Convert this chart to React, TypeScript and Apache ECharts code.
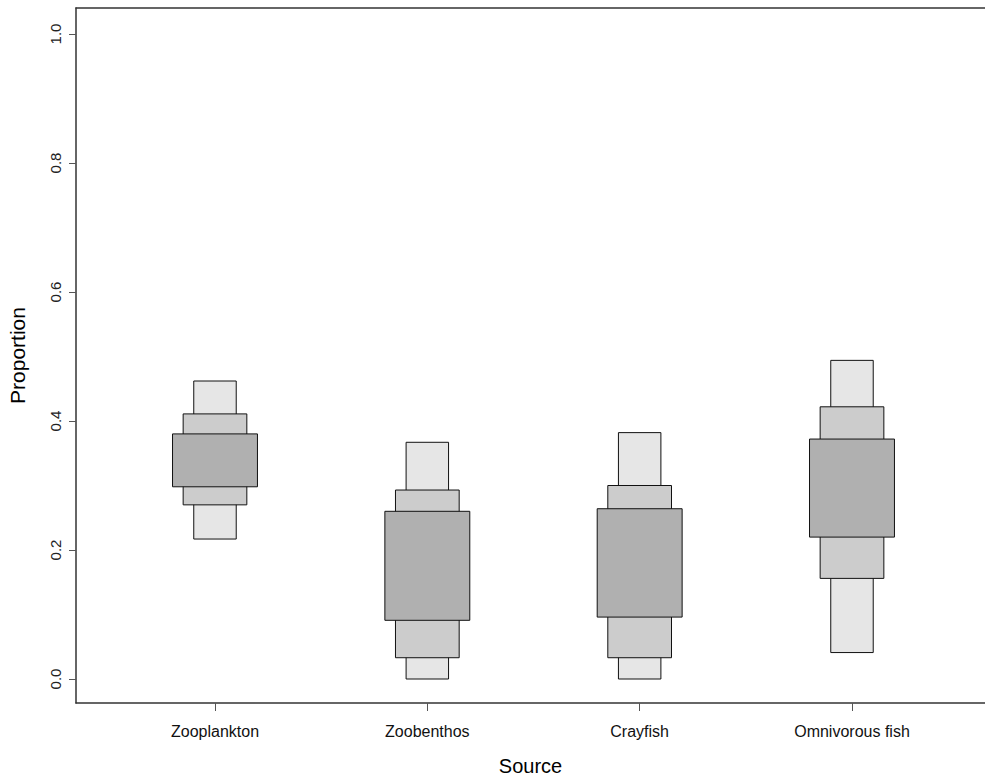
import React, { useEffect, useRef } from "react";
import * as echarts from "echarts";

const categories = ["Zooplankton", "Zoobenthos", "Crayfish", "Omnivorous fish"];
const ci95Low = [0.217, 0.0, 0.0, 0.041];
const ci95High = [0.462, 0.367, 0.382, 0.494];
const ci75Low = [0.27, 0.033, 0.033, 0.156];
const ci75High = [0.411, 0.293, 0.3, 0.422];
const ci50Low = [0.298, 0.091, 0.096, 0.22];
const ci50High = [0.38, 0.26, 0.264, 0.372];
const yTicks = [0, 0.2, 0.4, 0.6, 0.8, 1.0];

const FONT = "'Liberation Sans', Arial, Helvetica, sans-serif";

export default function App() {
  const ref = useRef<HTMLDivElement>(null);
  useEffect(() => {
    if (!ref.current) return;
    const chart = echarts.init(ref.current, undefined, { renderer: "svg" });
    const data = categories.map((c, i) => [
      i + 1,
      ci95Low[i],
      ci95High[i],
      ci75Low[i],
      ci75High[i],
      ci50Low[i],
      ci50High[i],
    ]);
    const levels = [
      { lo: 1, hi: 2, hw: 0.1, fill: "#e6e6e6" },
      { lo: 3, hi: 4, hw: 0.15, fill: "#cccccc" },
      { lo: 5, hi: 6, hw: 0.2, fill: "#b0b0b0" },
    ];
    const xTicks = categories.map((_, i) => i + 1);
    chart.setOption({
      animation: false,
      backgroundColor: "#ffffff",
      grid: {
        left: 76,
        top: 8,
        bottom: 75,
        right: 0,
        containLabel: false,
        outerBoundsMode: "none",
      },
      xAxis: [
        {
          type: "value",
          min: 0.3454,
          max: 4.6264,
          name: "Source",
          nameLocation: "middle",
          nameGap: 53,
          nameTextStyle: { fontFamily: FONT, fontSize: 20, color: "#000" },
          axisLine: { show: true, onZero: false, lineStyle: { color: "#333", width: 1.5 } },
          axisTick: {
            show: true,
            customValues: xTicks,
            length: 8,
            lineStyle: { color: "#555", width: 1 },
          },
          axisLabel: {
            customValues: xTicks,
            margin: 20,
            fontFamily: FONT,
            fontSize: 16,
            color: "#111",
            formatter: (v: number) => categories[Math.round(v) - 1] ?? "",
          },
          splitLine: { show: false },
        },
        {
          type: "value",
          position: "top",
          min: 0.3454,
          max: 4.6264,
          axisLine: { show: true, onZero: false, lineStyle: { color: "#333", width: 1.5 } },
          axisTick: { show: false },
          axisLabel: { show: false },
          splitLine: { show: false },
        },
      ],
      yAxis: {
        type: "value",
        min: -0.0372,
        max: 1.0403,
        name: "Proportion",
        nameLocation: "middle",
        nameGap: 48,
        nameRotate: 90,
        nameTextStyle: { fontFamily: FONT, fontSize: 21, color: "#000" },
        axisLine: { show: true, onZero: false, lineStyle: { color: "#333", width: 1.5 } },
        axisTick: {
          show: true,
          customValues: yTicks,
          length: 7,
          lineStyle: { color: "#555", width: 1 },
        },
        axisLabel: {
          customValues: yTicks,
          rotate: 90,
          margin: 13,
          fontFamily: FONT,
          fontSize: 15,
          color: "#222",
          formatter: (v: number) => v.toFixed(1),
        },
        splitLine: { show: false },
      },
      series: [
        {
          type: "custom",
          xAxisIndex: 0,
          data,
          encode: { x: 0, y: [1, 2, 3, 4, 5, 6] },
          renderItem: (params: any, api: any) => {
            const x = api.value(0);
            const children = levels.map((lv) => {
              const p1 = api.coord([x - lv.hw, api.value(lv.hi)]);
              const p2 = api.coord([x + lv.hw, api.value(lv.lo)]);
              return {
                type: "rect",
                shape: {
                  x: p1[0],
                  y: p1[1],
                  width: p2[0] - p1[0],
                  height: p2[1] - p1[1],
                },
                style: { fill: lv.fill, stroke: "#111", lineWidth: 1 },
              };
            });
            return { type: "group", children };
          },
        },
      ],
    });
    return () => chart.dispose();
  }, []);
  return (
    <div
      ref={ref}
      style={{ position: "fixed", left: 0, top: 0, width: 985, height: 778 }}
    />
  );
}
